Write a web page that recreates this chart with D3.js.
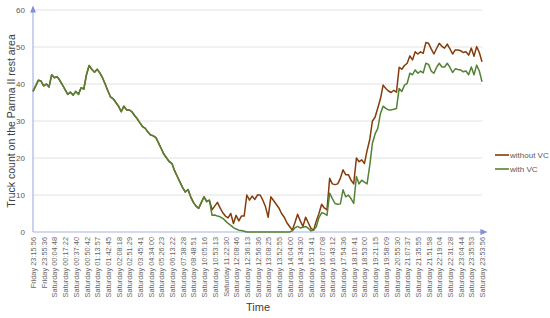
<!DOCTYPE html>
<html><head><meta charset="utf-8">
<script src="https://cdn.jsdelivr.net/npm/d3@7"></script>
<style>body{margin:0;background:#fff}</style>
</head><body><svg id="c" width="550" height="318"></svg>
<script>
const tickLabels = ["Friday 23:15:56","Friday 23:55:36","Saturday 00:04:48","Saturday 00:17:22","Saturday 00:37:40","Saturday 00:50:42","Saturday 01:13:57","Saturday 01:42:45","Saturday 02:08:18","Saturday 02:51:29","Saturday 03:45:41","Saturday 04:34:00","Saturday 05:26:23","Saturday 06:13:22","Saturday 07:38:28","Saturday 08:48:51","Saturday 10:05:16","Saturday 10:53:13","Saturday 11:22:30","Saturday 12:08:46","Saturday 12:36:13","Saturday 12:56:36","Saturday 13:08:25","Saturday 13:52:55","Saturday 14:04:00","Saturday 14:34:30","Saturday 15:13:41","Saturday 16:07:08","Saturday 16:43:12","Saturday 17:54:36","Saturday 18:10:41","Saturday 18:53:00","Saturday 19:21:15","Saturday 19:58:09","Saturday 20:55:30","Saturday 21:07:37","Saturday 21:35:55","Saturday 21:51:58","Saturday 22:19:04","Saturday 22:31:28","Saturday 23:04:44","Saturday 23:35:53","Saturday 23:53:56"];

const withoutVC = [38,39.5,41,40.8,39.5,40,39.2,42.5,41.7,42,
41,39.8,38.5,37.2,37.8,37,38,37.2,39,38.6,
42.5,45,44,43.2,44,43,41.7,40,38.2,36.5,
36,35,34,32.5,34,33,33,32.5,31.5,30.6,
29.5,28.5,28,27,26.2,26,25.5,24,22.5,21,
20,19,18.5,16.5,15,13.5,12,10.8,11.5,9.5,
8,7,6.4,8,9.5,8.2,8.6,
6,7,8,6.5,5.2,4.3,3.8,5,2.3,4.5,
3,4.3,4.3,10,8.6,9.7,8.8,10,10,8.6,
6.8,4,9.5,8.5,7.5,6.5,5,4,2.5,1.5,
0.5,2.5,4.8,3,1.5,4,2.5,1,0.5,3,
5,7.5,6.5,6,14.5,13,12.8,13,14.5,16.8,
15.5,15.5,14,13,20,19,19.5,18.5,22,25,
30,31,33.5,36,39.7,38.8,38.1,37.7,38.3,37.8,
44.5,44,45,45.6,47.6,46.5,48.7,48.1,48.7,48.3,
51.2,51,49.5,48.1,49.6,51,50.2,49.7,50.8,49.5,
48.1,49.2,49.2,49,48.5,48.7,47.8,49.7,47.5,50.1,
48.5,46];

const withVC = [38,39.5,41,40.8,39.5,40,39.2,42.5,41.7,42,
41,39.8,38.5,37.2,37.8,37,38,37.2,39,38.6,
42.5,45,44,43.2,44,43,41.7,40,38.2,36.5,
36,35,34,32.5,34,33,33,32.5,31.5,30.6,
29.5,28.5,28,27,26.2,26,25.5,24,22.5,21,
20,19,18.5,16.5,15,13.5,12,10.8,11.5,9.5,
8,7,6.4,8,9.5,8.2,8.6,
4.5,4.6,4.3,4.1,3.7,3,2.3,1.8,1.2,0.8,
0.5,0.4,0.2,0,0,0,0,0,0,0,
0,0,0,0,0,0,0,0,0,0,
0.3,1.1,1.5,1.1,1.3,1.5,1,0.3,0.5,1.4,
3.9,5.2,5,4.5,10.5,9,7.7,7.5,7.6,11.4,
9.5,10,9,7.7,15,13,14,13.5,13,18,
24,26.5,28,32,34,33.4,33,33,33.2,33.4,
38.8,38,39.7,40.2,42.9,42.5,43.8,42.9,43.5,43,
45.6,45.3,43.5,42.9,44.5,45.6,44.6,44.6,45.6,44.5,
43.1,44.1,43.9,43.8,43.3,43.5,42.5,44.6,42.5,45.1,
43.5,40.6];

const yTicks = [0,10,20,30,40,50,60];
const seriesNames = ["without VC","with VC"];
const seriesColors = ["#843c0c","#548235"];
const labelEvery = 4;

const svg = d3.select("#c");
const font = "'Liberation Sans', Arial, sans-serif";
const m = {left:33, right:482, top:10, bottom:232};
const idx = d3.range(withoutVC.length);
const x = d3.scalePoint().domain(idx).range([m.left, m.right]);
const y = d3.scaleLinear().domain([0,60]).range([m.bottom, m.top]);

const defs = svg.append("defs");
defs.append("marker").attr("id","arr").attr("viewBox","0 0 10 10").attr("refX",5).attr("refY",5)
  .attr("markerWidth",6).attr("markerHeight",6).attr("orient","auto")
  .append("path").attr("d","M0,1 L10,5 L0,9 Z").attr("fill","#7f8fd0");

// grid
svg.append("g").selectAll("line").data(yTicks.filter(t=>t>0)).join("line")
  .attr("x1", m.left).attr("x2", m.right)
  .attr("y1", d=>y(d)).attr("y2", d=>y(d))
  .attr("stroke","#e2e2e2").attr("stroke-width",1);

// y axis
const ya = svg.append("g").attr("transform",`translate(${m.left},0)`)
  .call(d3.axisLeft(y).tickValues(yTicks).tickSize(0).tickPadding(8));
ya.select(".domain").remove();
ya.selectAll("text").attr("font-family",font).attr("font-size",8).attr("fill","#595959");
svg.append("line").attr("x1",m.left).attr("x2",m.left).attr("y1",m.bottom).attr("y2",m.top-1)
  .attr("stroke","#a9b4e2").attr("stroke-width",1.2).attr("marker-end","url(#arr)");

// x axis
const xa = svg.append("g").attr("transform",`translate(0,${m.bottom})`)
  .call(d3.axisBottom(x).tickValues(idx.filter(i=>i%labelEvery===0))
    .tickFormat(i=>tickLabels[i/labelEvery]).tickSize(0));
xa.select(".domain").remove();
xa.selectAll("text").attr("font-family",font).attr("font-size",7.4).attr("fill","#666666")
  .attr("transform","rotate(-90)").attr("x",-5).attr("y",0).attr("dy","0.35em")
  .style("text-anchor","end");
svg.append("line").attr("x1",m.left).attr("x2",m.right+2).attr("y1",m.bottom).attr("y2",m.bottom)
  .attr("stroke","#a9b4e2").attr("stroke-width",1.2).attr("marker-end","url(#arr)");

// lines
const line = d3.line().x((d,i)=>x(i)).y(d=>y(d));
[withoutVC, withVC].forEach((s,k)=>{
  svg.append("path").datum(s).attr("d",line).attr("fill","none")
    .attr("stroke",seriesColors[k]).attr("stroke-width",1.5).attr("stroke-linejoin","round");
});

// titles
svg.append("text").attr("transform",`translate(11,${(m.top+m.bottom)/2}) rotate(-90)`)
  .attr("text-anchor","middle").attr("dy","0.35em").attr("font-family",font).attr("font-size",10.5)
  .attr("fill","#404040").text("Truck count on the Parma II rest area");
svg.append("text").attr("x",258).attr("y",311).attr("text-anchor","middle")
  .attr("font-family",font).attr("font-size",11).attr("fill","#404040").text("Time");

// legend
const lg = svg.append("g").attr("transform","translate(495,155)");
seriesNames.forEach((n,k)=>{
  const g = lg.append("g").attr("transform",`translate(0,${k*14})`);
  g.append("line").attr("x1",0).attr("x2",14).attr("stroke",seriesColors[k]).attr("stroke-width",1.6);
  g.append("text").attr("x",15).attr("dy","0.35em").attr("font-family",font).attr("font-size",8)
    .attr("fill","#595959").text(n);
});
</script></body></html>
